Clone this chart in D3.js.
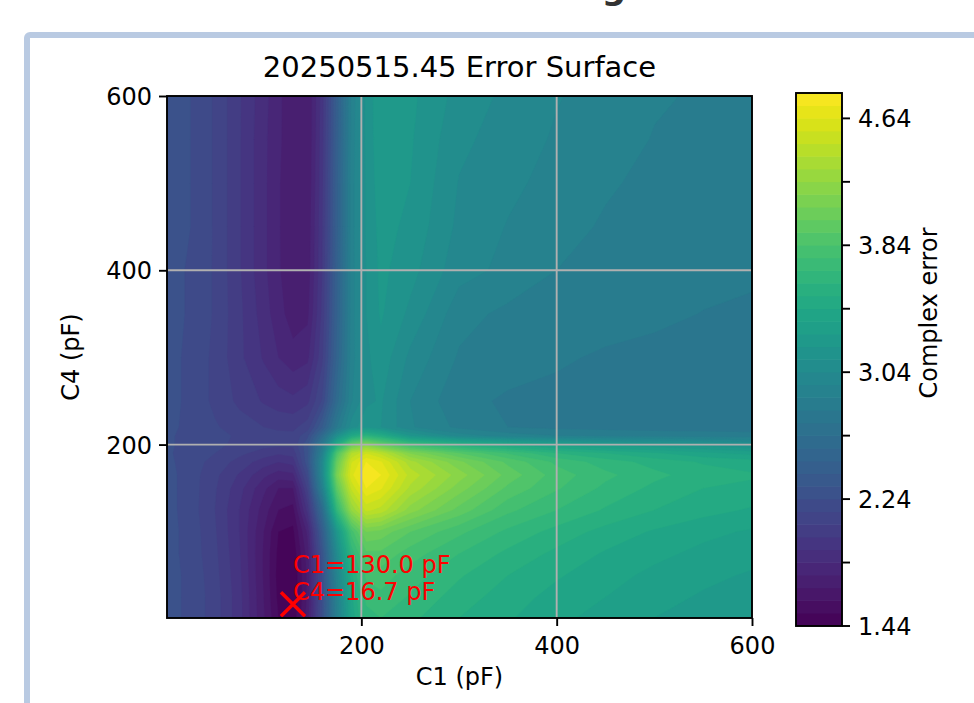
<!DOCTYPE html>
<html><head><meta charset="utf-8">
<script src="https://cdn.jsdelivr.net/npm/d3@7"></script>
<style>
body{margin:0;background:#fff;}
svg{display:block;font-family:"DejaVu Sans",sans-serif;}
</style>
</head><body>
<svg id="chart" width="974" height="703"></svg>
<script>
// ---------- data ----------
const c1Values = [1,25,50,75,100,115,130,145,160,175,190,205,220,250,300,350,400,450,500,550,600];
const c4Values = [1,25,50,75,100,125,150,165,180,190,200,210,220,250,300,350,400,450,500,550,600];
// one row per C4 value (bottom to top), one column per C1 value
const errorRows = [
 [2.27,2.22,2.12,1.95,1.69,1.52,1.46,1.72,2.25,2.88,3.38,3.65,3.68,3.62,3.52,3.45,3.38,3.33,3.28,3.25,3.22],
 [2.27,2.22,2.12,1.95,1.68,1.50,1.44,1.70,2.24,2.90,3.42,3.70,3.74,3.67,3.56,3.48,3.41,3.36,3.31,3.27,3.24],
 [2.27,2.22,2.11,1.94,1.67,1.49,1.44,1.70,2.25,2.95,3.50,3.78,3.80,3.72,3.61,3.52,3.45,3.39,3.34,3.30,3.27],
 [2.27,2.21,2.10,1.93,1.67,1.50,1.46,1.72,2.30,3.05,3.62,3.90,3.90,3.80,3.68,3.58,3.50,3.43,3.38,3.34,3.31],
 [2.27,2.21,2.09,1.92,1.68,1.52,1.50,1.78,2.40,3.20,3.80,4.08,4.05,3.92,3.78,3.66,3.57,3.49,3.43,3.38,3.35],
 [2.27,2.20,2.08,1.92,1.72,1.60,1.57,1.95,2.60,3.65,4.25,4.50,4.45,4.20,3.97,3.78,3.68,3.59,3.52,3.47,3.43],
 [2.27,2.20,2.09,1.95,1.78,1.68,1.68,2.10,2.90,3.95,4.50,4.72,4.65,4.38,4.12,3.90,3.77,3.66,3.58,3.52,3.50],
 [2.27,2.20,2.10,1.99,1.86,1.80,1.82,2.20,3.00,4.10,4.62,4.78,4.72,4.45,4.20,3.97,3.80,3.70,3.62,3.56,3.53],
 [2.26,2.20,2.13,2.05,1.96,1.92,1.95,2.30,3.00,4.00,4.55,4.72,4.65,4.35,4.10,3.90,3.74,3.64,3.57,3.51,3.48],
 [2.25,2.21,2.16,2.10,2.04,2.01,2.03,2.30,2.90,3.85,4.40,4.55,4.45,4.15,3.92,3.75,3.60,3.52,3.45,3.38,3.33],
 [2.25,2.22,2.18,2.14,2.11,2.10,2.10,2.30,2.80,3.50,4.00,4.15,4.00,3.75,3.55,3.42,3.32,3.25,3.20,3.16,3.12],
 [2.25,2.22,2.18,2.15,2.12,2.11,2.10,2.22,2.60,3.10,3.45,3.60,3.50,3.20,3.00,2.92,2.88,2.86,2.85,2.84,2.83],
 [2.26,2.22,2.17,2.12,2.08,2.06,2.06,2.12,2.40,2.80,3.08,3.18,3.12,2.97,2.86,2.80,2.78,2.77,2.76,2.76,2.76],
 [2.27,2.22,2.14,2.06,1.99,1.96,1.94,1.98,2.17,2.60,2.95,3.10,3.13,2.96,2.82,2.79,2.78,2.77,2.76,2.76,2.76],
 [2.27,2.22,2.14,2.02,1.91,1.84,1.79,1.82,2.06,2.50,2.92,3.10,3.17,3.02,2.87,2.83,2.81,2.79,2.78,2.77,2.77],
 [2.27,2.23,2.15,2.02,1.88,1.79,1.72,1.74,2.02,2.47,2.92,3.12,3.21,3.10,2.91,2.86,2.845,2.83,2.815,2.798,2.79],
 [2.27,2.23,2.15,2.01,1.86,1.77,1.70,1.71,2.00,2.46,2.92,3.12,3.22,3.15,2.99,2.94,2.88,2.85,2.83,2.82,2.81],
 [2.27,2.24,2.15,2.01,1.86,1.77,1.69,1.70,1.99,2.45,2.92,3.13,3.23,3.18,3.02,2.955,2.91,2.87,2.85,2.84,2.83],
 [2.27,2.24,2.15,2.01,1.86,1.77,1.69,1.69,1.98,2.45,2.92,3.13,3.25,3.20,3.035,2.98,2.93,2.89,2.86,2.85,2.84],
 [2.27,2.24,2.15,2.01,1.86,1.78,1.69,1.68,1.97,2.44,2.91,3.14,3.26,3.21,3.06,3.00,2.95,2.92,2.875,2.86,2.85],
 [2.27,2.24,2.15,2.01,1.87,1.78,1.70,1.68,1.96,2.43,2.90,3.14,3.27,3.22,3.09,3.02,2.965,2.93,2.89,2.87,2.86]
];
const xTicks = [200, 400, 600];
const yTicks = [200, 400, 600];
const cbarTicks = [1.44, 1.84, 2.24, 2.64, 3.04, 3.44, 3.84, 4.24, 4.64];
const cbarLabels = [1.44, 2.24, 3.04, 3.84, 4.64];
const levelMin = 1.44, levelMax = 4.80, levelStep = 0.08;
const best = {c1: 130.0, c4: 16.7};
const titleText = "20250515.45 Error Surface";

// ---------- layout ----------
const svg = d3.select("#chart");
const P = {l: 167, r: 752, t: 96, b: 618};
const CB = {l: 796, r: 842, t: 93, b: 626};
const FS = 24;
const x = d3.scaleLinear([1, 600], [P.l, P.r]);
const y = d3.scaleLinear([1, 600], [P.b, P.t]);
const cb = d3.scaleLinear([levelMin, levelMax], [CB.b, CB.t]);
const nLev = Math.round((levelMax - levelMin) / levelStep);
const levels = d3.range(0, nLev + 1).map(k => +(levelMin + k * levelStep).toFixed(2));
const bandColor = t => d3.interpolateViridis((t + levelStep / 2 - levelMin) / (levelMax - levelMin));

// page frame and the heading that is cut off at the top of the page (only the g's tail shows)
svg.append("text").attr("x", 626).attr("y", -1).attr("text-anchor", "end")
  .attr("font-size", 34).attr("font-weight", "bold").attr("fill", "#333")
  .text("Fitting");
svg.append("rect").attr("x", 27).attr("y", 35).attr("width", 1000).attr("height", 800)
  .attr("rx", 3).attr("fill", "#fff").attr("stroke", "#b9cae2").attr("stroke-width", 6);

// ---------- filled contours ----------
const nx = c1Values.length, ny = c4Values.length;
const gx = d3.scaleLinear(d3.range(nx).map(i => i + 0.5), c1Values).clamp(true);
const gy = d3.scaleLinear(d3.range(ny).map(j => j + 0.5), c4Values).clamp(true);
const proj = d3.geoTransform({point: function(px, py) { this.stream.point(x(gx(px)), y(gy(py))); }});
const path = d3.geoPath(proj);
const contours = d3.contours().size([nx, ny]).smooth(true)
  .thresholds(levels.slice(0, -1))(errorRows.flat());

svg.append("clipPath").attr("id", "plotclip").append("rect")
  .attr("x", P.l).attr("y", P.t).attr("width", P.r - P.l).attr("height", P.b - P.t);
const gPlot = svg.append("g").attr("clip-path", "url(#plotclip)");
gPlot.append("rect").attr("x", P.l).attr("y", P.t).attr("width", P.r - P.l).attr("height", P.b - P.t)
  .attr("fill", bandColor(levelMin));
gPlot.selectAll("path.band").data(contours).join("path").attr("class", "band")
  .attr("d", path).attr("fill", d => bandColor(d.value))
  .attr("stroke", d => bandColor(d.value)).attr("stroke-width", 0.4);

// grid
const gGrid = svg.append("g").attr("stroke", "#b0b0b0").attr("stroke-width", 1.9);
gGrid.selectAll("line.vx").data(xTicks.filter(v => v < 600)).join("line")
  .attr("x1", d => x(d)).attr("x2", d => x(d)).attr("y1", P.t).attr("y2", P.b);
gGrid.selectAll("line.hy").data(yTicks.filter(v => v < 600)).join("line")
  .attr("y1", d => y(d)).attr("y2", d => y(d)).attr("x1", P.l).attr("x2", P.r);

// best-fit marker and annotation
const mx = x(best.c1), my = y(best.c4);
svg.append("path").attr("d", `M${mx-12},${my-12}L${mx+12},${my+12}M${mx-12},${my+12}L${mx+12},${my-12}`)
  .attr("stroke", "red").attr("stroke-width", 3.5).attr("fill", "none");
const ann = svg.append("text").attr("x", mx).attr("y", my - 31).attr("fill", "red").attr("font-size", FS);
ann.append("tspan").attr("x", mx).text(`C1=${best.c1.toFixed(1)} pF`);
ann.append("tspan").attr("x", mx).attr("dy", 27).text(`C4=${best.c4.toFixed(1)} pF`);

// axes
const xAxis = svg.append("g").attr("transform", `translate(0,${P.b})`)
  .call(d3.axisBottom(x).tickValues(xTicks).tickSize(8).tickSizeOuter(0).tickFormat(d3.format("d")));
xAxis.selectAll("text").attr("y", 36).attr("dy", 0).attr("font-size", FS).attr("fill", "#000");
const yAxis = svg.append("g").attr("transform", `translate(${P.l},0)`)
  .call(d3.axisLeft(y).tickValues(yTicks).tickSize(8).tickSizeOuter(0).tickFormat(d3.format("d")));
yAxis.selectAll("text").attr("x", -15).attr("dy", "0.36em").attr("font-size", FS).attr("fill", "#000");
[xAxis, yAxis].forEach(a => {
  a.select(".domain").remove();
  a.selectAll(".tick line").attr("stroke", "#000").attr("stroke-width", 1.9);
  a.attr("font-family", "DejaVu Sans");
});
svg.append("rect").attr("x", P.l).attr("y", P.t).attr("width", P.r - P.l).attr("height", P.b - P.t)
  .attr("fill", "none").attr("stroke", "#000").attr("stroke-width", 1.9);

// titles
svg.append("text").attr("x", (P.l + P.r) / 2).attr("y", 77).attr("text-anchor", "middle")
  .attr("font-size", 29).text(titleText);
svg.append("text").attr("x", (P.l + P.r) / 2).attr("y", 685).attr("text-anchor", "middle")
  .attr("font-size", FS).text("C1 (pF)");
svg.append("text").attr("transform", `translate(79,${(P.t + P.b) / 2}) rotate(-90)`)
  .attr("text-anchor", "middle").attr("font-size", FS).text("C4 (pF)");

// ---------- colorbar ----------
const gCb = svg.append("g");
gCb.selectAll("rect").data(levels.slice(0, -1)).join("rect")
  .attr("x", CB.l).attr("width", CB.r - CB.l)
  .attr("y", d => cb(d + levelStep) - 0.3).attr("height", d => cb(d) - cb(d + levelStep) + 0.6)
  .attr("fill", d => bandColor(d));
gCb.append("rect").attr("x", CB.l).attr("y", CB.t).attr("width", CB.r - CB.l).attr("height", CB.b - CB.t)
  .attr("fill", "none").attr("stroke", "#000").attr("stroke-width", 1.9);
gCb.selectAll("line.t").data(cbarTicks).join("line")
  .attr("x1", CB.r).attr("x2", CB.r + 8).attr("y1", d => cb(d)).attr("y2", d => cb(d))
  .attr("stroke", "#000").attr("stroke-width", 1.9);
gCb.selectAll("text.l").data(cbarLabels).join("text")
  .attr("x", CB.r + 16).attr("y", d => cb(d)).attr("dy", "0.36em").attr("font-size", FS)
  .text(d => d.toFixed(2));
svg.append("text").attr("transform", `translate(937,313) rotate(-90)`)
  .attr("text-anchor", "middle").attr("font-size", FS).text("Complex error");
</script>
</body></html>
